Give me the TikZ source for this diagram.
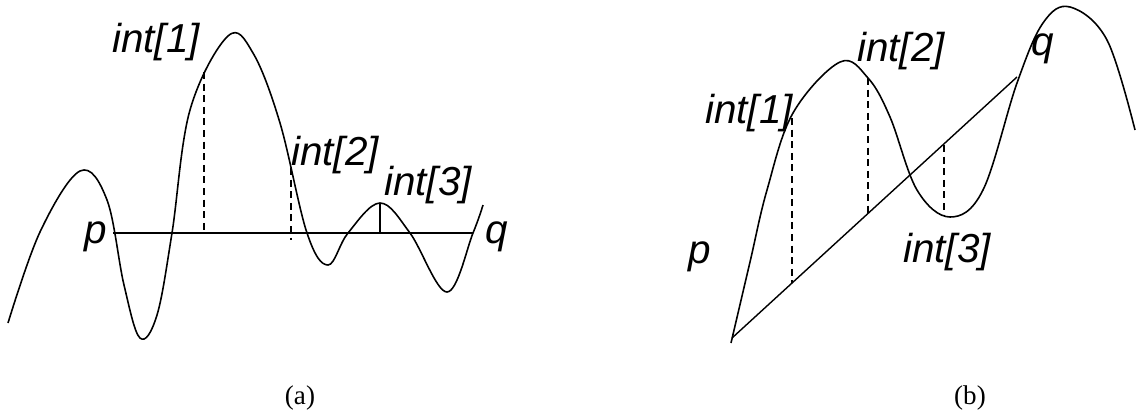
\documentclass[tikz,border=0pt]{standalone}
\usepackage{fontspec}
\setmainfont{Liberation Serif}
\setsansfont{Liberation Sans}
\usetikzlibrary{positioning}

\begin{document}
\begin{tikzpicture}[
    x=0.01cm, y=-0.01cm,
    curve/.style={draw=black, line width=0.45pt, smooth, tension=0.6},
    chord/.style={draw=black, line width=0.4pt},
    dropline/.style={draw=black, line width=0.4pt, dash pattern=on 2pt off 1.3pt},
    lbl/.style={font=\sffamily\itshape\fontsize{11.5}{13}\selectfont, inner sep=0pt},
    ptlbl/.style={lbl, anchor=base},
    capt/.style={font=\fontsize{7.7}{9}\selectfont, inner sep=0pt}
]
\useasboundingbox (0,0) rectangle (1136,412);

% (a)
\draw[curve] plot coordinates {(8,323) (40,232) (80,171) (107,200) (124,285)
    (140,338) (157,315) (172,233) (190,110) (228,36) (253,53) (280,123) (307,233)
    (328,265) (348,233) (380,203) (410,233) (447,292) (473,233) (483,205)};
\coordinate (pa) at (113,233);
\coordinate (qa) at (473,233);
\draw[chord] (pa) -- (qa);
\coordinate (a1top) at (204,72);
\coordinate (a1bot) at (204,233);
\coordinate (a2top) at (291,168);
\coordinate (a2bot) at (291,240);
\coordinate (a3top) at (380,203);
\coordinate (a3bot) at (380,233);
\draw[dropline] (a1top) -- (a1bot);
\draw[dropline] (a2top) -- (a2bot);
\draw[chord] (a3top) -- (a3bot);
\node[ptlbl] (plabA) at (96,243) {p};
\node[ptlbl] (qlabA) at (497,243) {q};
\node[lbl] (int1A) at (156,42) {int[1]};
\node[lbl] (int2A) at (335,155) {int[2]};
\node[lbl] (int3A) at (428,185) {int[3]};
\node[capt] (captA) at (300,398) {(a)};

% (b)
\draw[curve] plot coordinates {(731,343) (750,262) (767,190) (793,113) (840,62)
    (868,78) (890,117) (917,190) (950,217) (983,190) (1017,83) (1043,23) (1070,7)
    (1107,40) (1135,130)};
\coordinate (pb) at (732,338);
\coordinate (qb) at (1017,77);
\draw[chord] (pb) -- (qb);
\coordinate (b1top) at (792,118);
\coordinate (b1bot) at (792,283);
\coordinate (b2top) at (868,78);
\coordinate (b2bot) at (868,213);
\coordinate (b3top) at (944,145);
\coordinate (b3bot) at (944,215);
\draw[dropline] (b1top) -- (b1bot);
\draw[dropline] (b2top) -- (b2bot);
\draw[dropline] (b3top) -- (b3bot);
\node[ptlbl] (plabB) at (700,263) {p};
\node[ptlbl] (qlabB) at (1043,55) {q};
\node[lbl] (int1B) at (749,113) {int[1]};
\node[lbl] (int2B) at (901,51) {int[2]};
\node[lbl] (int3B) at (947,252) {int[3]};
\node[capt] (captB) at (970,398) {(b)};
\end{tikzpicture}
\end{document}
